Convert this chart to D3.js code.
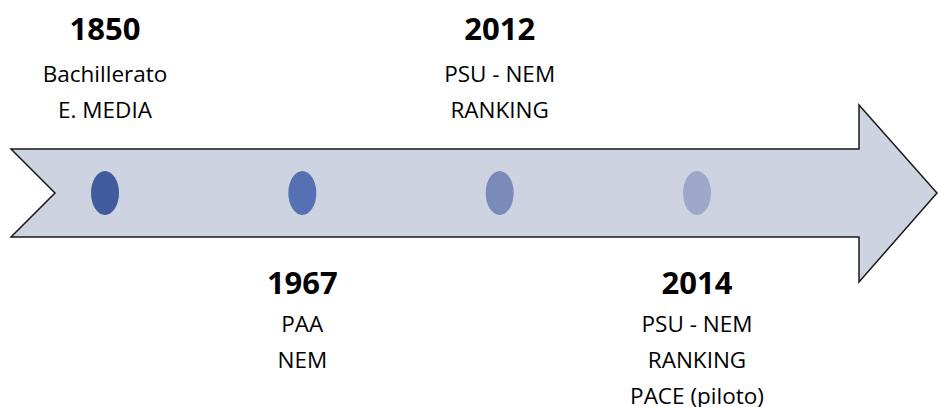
<!DOCTYPE html>
<html>
<head>
<meta charset="utf-8">
<script src="https://cdn.jsdelivr.net/npm/d3@7/dist/d3.min.js"></script>
<style>
  html, body { margin: 0; padding: 0; background: #fff; }
  svg { display: block; }
  text { font-family: "Open Sans", "Noto Sans", sans-serif; fill: #000; }
</style>
</head>
<body>
<div id="chart"></div>
<script>
// timeline data
var years = ["1850", "1967", "2012", "2014"];
var labels = [
    ["Bachillerato", "E. MEDIA"],
    ["PAA", "NEM"],
    ["PSU - NEM", "RANKING"],
    ["PSU - NEM", "RANKING", "PACE (piloto)"]
];
var sides = ["top", "bottom", "top", "bottom"];
var dotColors = ["#405c9c", "#5570b3", "#7a8bba", "#9da8c8"];

var w = 938, h = 407;

var svg = d3.select("#chart").append("svg")
    .attr("width", w)
    .attr("height", h);

// arrow shape
var shaftTop = 149, shaftBot = 237, midY = (shaftTop + shaftBot) / 2;
var arrowPts = [
    [11, shaftTop], [859, shaftTop], [859, 105], [937, midY],
    [859, 282], [859, shaftBot], [11, shaftBot], [55, midY]
];
svg.append("path")
    .attr("d", d3.line()(arrowPts) + "Z")
    .style("fill", "#ced3e1")
    .style("stroke", "#1a1a1a")
    .style("stroke-width", 1.5)
    .style("stroke-linejoin", "miter");

var x = d3.scalePoint().domain(years).range([105, 697]);

var events = years.map(function(y, i) {
    return { year: y, lines: labels[i], side: sides[i], color: dotColors[i] };
});

svg.selectAll("ellipse.dot")
    .data(events)
    .enter().append("ellipse")
    .attr("class", "dot")
    .attr("cx", function(d) { return x(d.year); })
    .attr("cy", midY)
    .attr("rx", 14)
    .attr("ry", 22)
    .style("fill", function(d) { return d.color; });

var groups = svg.selectAll("g.event")
    .data(events)
    .enter().append("g")
    .attr("class", "event")
    .attr("transform", function(d) { return "translate(" + x(d.year) + ",0)"; });

groups.append("text")
    .attr("text-anchor", "middle")
    .attr("y", function(d) { return d.side == "top" ? 40 : 294; })
    .style("font-size", "31px")
    .style("font-weight", "bold")
    .text(function(d) { return d.year; });

groups.each(function(d) {
    var y0 = d.side == "top" ? 82 : 332;
    d3.select(this).selectAll("text.line")
        .data(d.lines)
        .enter().append("text")
        .attr("class", "line")
        .attr("text-anchor", "middle")
        .attr("y", function(t, i) { return y0 + i * 36; })
        .style("font-size", "22.5px")
        .text(function(t) { return t; });
});
</script>
</body>
</html>
